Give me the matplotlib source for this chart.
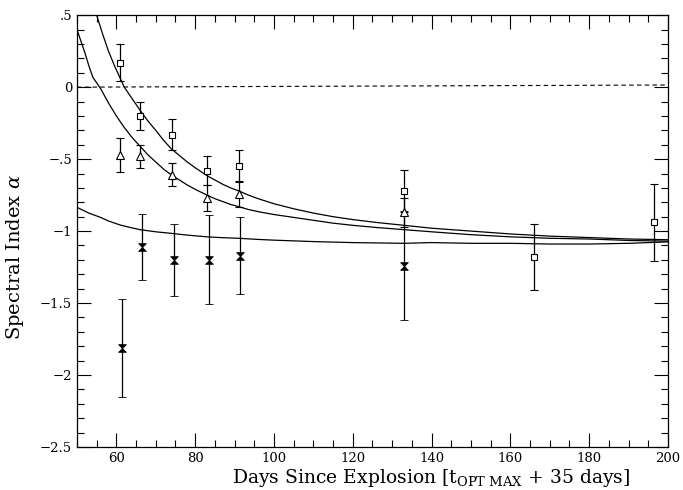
import numpy as np
import matplotlib.pyplot as plt
from matplotlib.path import Path
from matplotlib.ticker import MultipleLocator, FuncFormatter

# --- data ---
sq_x = [61, 66, 74, 83, 91, 133, 166, 196.5]
sq_y = [0.17, -0.20, -0.33, -0.58, -0.55, -0.72, -1.18, -0.94]
sq_err = [0.13, 0.10, 0.11, 0.10, 0.11, 0.145, 0.23, 0.27]

tri_x = [61, 66, 74, 83, 91, 133]
tri_y = [-0.47, -0.48, -0.61, -0.77, -0.74, -0.87]
tri_err = [0.12, 0.08, 0.08, 0.09, 0.09, 0.10]

bow_x = [61.5, 66.4, 74.5, 83.5, 91.4, 133]
bow_y = [-1.81, -1.11, -1.20, -1.20, -1.17, -1.24]
bow_err = [0.34, 0.23, 0.25, 0.31, 0.27, 0.38]

# model curves
curve_x1 = [55, 56.5, 58, 59.5, 61, 62, 63, 64, 66, 68, 70, 72, 74, 76, 78, 80, 83, 85, 87, 89, 91, 93.5, 96,
            100, 105, 110, 115, 120, 126, 133, 140, 150, 160, 170, 180, 190, 200]
curve_y1 = [0.50, 0.37, 0.25, 0.15, 0.06, 0.00, -0.04, -0.08, -0.16, -0.235, -0.30, -0.37, -0.43, -0.475, -0.52,
            -0.56, -0.615, -0.645, -0.675, -0.70, -0.72, -0.75, -0.775, -0.81, -0.845, -0.875, -0.90, -0.92,
            -0.94, -0.96, -0.98, -1.00, -1.02, -1.035, -1.045, -1.055, -1.06]
curve_x2 = [50, 51, 52, 53, 54, 55, 56, 58, 60, 62, 64, 66, 68, 70, 72, 74, 76, 78, 80, 83, 85, 87, 89, 91, 93.5,
            96, 100, 105, 110, 115, 120, 126, 133, 140, 150, 160, 170, 180, 190, 200]
curve_y2 = [0.40, 0.32, 0.24, 0.15, 0.07, 0.03, -0.01, -0.11, -0.20, -0.28, -0.35, -0.41, -0.47, -0.52, -0.57,
            -0.61, -0.645, -0.68, -0.71, -0.75, -0.775, -0.795, -0.815, -0.83, -0.85, -0.865, -0.885, -0.905,
            -0.925, -0.945, -0.96, -0.975, -0.99, -1.005, -1.025, -1.04, -1.05, -1.055, -1.065, -1.07]
curve_x3 = [50, 53, 56, 58, 61, 64, 66, 70, 74, 78, 83, 87, 91, 96, 100, 110, 120, 133, 140, 150, 160, 170, 180,
            190, 200]
curve_y3 = [-0.835, -0.875, -0.905, -0.93, -0.958, -0.978, -0.99, -1.005, -1.016, -1.028, -1.04, -1.046, -1.05,
            -1.058, -1.063, -1.073, -1.08, -1.085, -1.08, -1.085, -1.085, -1.09, -1.09, -1.085, -1.075]

zero_x = [50, 200]
zero_y = [0.0, 0.015]

plt.rcParams['font.family'] = ['DejaVu Serif']
plt.rcParams['mathtext.fontset'] = 'dejavuserif'

fig = plt.figure(figsize=(6.83, 4.90), dpi=100)
ax = fig.add_axes([0.1127, 0.0878, 0.8653, 0.8812])

bowtie = Path([(-1, 1), (1, 1), (-1, -1), (1, -1), (-1, 1)],
              [Path.MOVETO, Path.LINETO, Path.LINETO, Path.LINETO, Path.CLOSEPOLY])

ax.plot(curve_x1, curve_y1, color='black', lw=0.9)
ax.plot(curve_x2, curve_y2, color='black', lw=0.9)
ax.plot(curve_x3, curve_y3, color='black', lw=0.9)
ax.plot(zero_x, zero_y, color='black', lw=0.8, ls=(0, (4, 3)))

eb = dict(color='black', elinewidth=0.9, capsize=3, capthick=0.9, ls='none')
ax.errorbar(sq_x, sq_y, yerr=sq_err, marker='s', ms=5, mfc='white', mec='black', mew=0.8, **eb)
ax.errorbar(tri_x, tri_y, yerr=tri_err, marker='^', ms=5.5, mfc='white', mec='black', mew=0.8, **eb)
ax.errorbar(bow_x, bow_y, yerr=bow_err, marker=bowtie, ms=5.5, mfc='black', mec='black', mew=0.6, **eb)

ax.set_xlim(50, 200)
ax.set_ylim(-2.5, 0.5)
ax.xaxis.set_major_locator(MultipleLocator(20))
ax.xaxis.set_minor_locator(MultipleLocator(5))
ax.yaxis.set_major_locator(MultipleLocator(0.5))
ax.yaxis.set_minor_locator(MultipleLocator(0.1))


def ylab(v, pos):
    if abs(v) < 1e-9:
        return '0'
    s = ('%g' % v)
    s = s.replace('0.', '.')
    return s.replace('-', '\u2212')


ax.yaxis.set_major_formatter(FuncFormatter(ylab))
ax.xaxis.set_major_formatter(FuncFormatter(lambda v, p: '' if v == 50 else '%d' % v))

ax.tick_params(which='both', direction='in', top=True, right=True, labelsize=9.5, width=0.8)
ax.tick_params(which='major', length=10)
ax.tick_params(which='minor', length=5)
for s in ax.spines.values():
    s.set_linewidth(0.9)

ax.set_xlabel(r'Days Since Explosion [t$_{\rm OPT\ MAX}$ + 35 days]', fontsize=13.5)
ax.set_ylabel(r'Spectral Index $\alpha$', fontsize=14)
ax.xaxis.set_label_coords(0.6, -0.046, transform=ax.transAxes)
ax.yaxis.set_label_coords(-0.086, 0.44, transform=ax.transAxes)

fig.savefig('out.png', dpi=100)
